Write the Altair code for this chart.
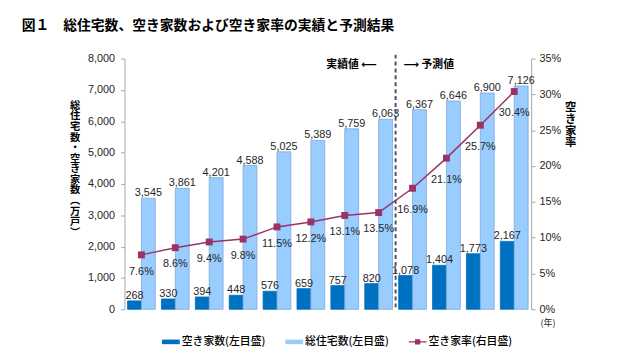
import altair as alt
import pandas as pd

years = ["1978", "1983", "1988", "1993", "1998", "2003", "2008", "2013",
         "2018", "2023", "2028", "2033"]
vacant = [268, 330, 394, 448, 576, 659, 757, 820, 1078, 1404, 1773, 2167]
total = [3545, 3861, 4201, 4588, 5025, 5389, 5759, 6063, 6367, 6646, 6900, 7126]
rate_pct = [7.6, 8.6, 9.4, 9.8, 11.5, 12.2, 13.1, 13.5, 16.9, 21.1, 25.7, 30.4]
series = ["空き家数(左目盛)", "総住宅数(左目盛)", "空き家率(右目盛)"]
colors = ["#0070C0", "#99CCFF", "#993366"]
left_ticks = [0, 1000, 2000, 3000, 4000, 5000, 6000, 7000, 8000]
right_ticks = [0, 0.05, 0.10, 0.15, 0.20, 0.25, 0.30, 0.35]
title_text = "図１　総住宅数、空き家数および空き家率の実績と予測結果"
left_title = "\n".join("総住宅数・空き家数︵万戸︶")
right_title = "\n".join("空き家率")
year_unit = "(年)"
actual_label = "実績値 ⟵"
forecast_label = "⟶ 予測値"
boundary_year = "2018"

FONT = "Liberation Sans, Arial, Noto Sans CJK JP, sans-serif"
JFONT = "Noto Sans CJK JP, DejaVu Sans, sans-serif"
TXT = "#262626"
AX = "#A6A6A6"

bars_df = pd.DataFrame({
    "year": years * 2,
    "series": [series[0]] * len(years) + [series[1]] * len(years),
    "value": vacant + total,
})
rate_df = pd.DataFrame({
    "year": years,
    "yr": [int(y) for y in years],
    "series": [series[2]] * len(years),
    "rate": [r / 100 for r in rate_pct],
})
note_df = pd.DataFrame({"year": [boundary_year]})

x_enc = alt.X("year:N", scale=alt.Scale(domain=years, paddingInner=0, paddingOuter=0),
              axis=alt.Axis(title=None,
                            labelAngle=0, labelFont=FONT, labelFontSize=11, labelColor=TXT,
                            labelPadding=3, tickBand="extent", tickSize=5, tickColor=AX,
                            domainColor=AX, grid=False))

LEG = alt.Legend(title=None, orient="none", legendX=38, legendY=278, direction="horizontal",
                 symbolSize=324, labelFont=JFONT, labelFontSize=11, labelColor="#000000",
                 labelFontWeight=500,
                 columnPadding=20, labelOffset=2, symbolStrokeWidth=0)

color_enc = alt.Color("series:N", scale=alt.Scale(domain=series, range=colors), legend=LEG)

y_left = alt.Y("value:Q", scale=alt.Scale(domain=[0, 8000], nice=False),
               axis=alt.Axis(values=left_ticks, format=",.0f", title=None,
                             labelFont=FONT, labelFontSize=11, labelColor=TXT, labelPadding=6,
                             tickSize=4, tickColor=AX, domainColor=AX, grid=False))

xoff = alt.XOffset("series:N", scale=alt.Scale(domain=series[:2], paddingOuter=0.22))

bars = alt.Chart(bars_df).mark_bar(strokeWidth=0.8).encode(
    x=x_enc, xOffset=xoff, y=y_left, color=color_enc,
    stroke=alt.Stroke("series:N", scale=alt.Scale(domain=series[:2], range=["#0070C0", "#7FA8D8"]),
                      legend=None),
)
bar_text = alt.Chart(bars_df).mark_text(dy=-5, fontSize=11, font=FONT, color=TXT).encode(
    x=x_enc, xOffset=xoff, y=y_left, text=alt.Text("value:Q", format=","),
)

y_right = alt.Y("rate:Q", scale=alt.Scale(domain=[0, 0.35], nice=False),
                axis=alt.Axis(orient="right", values=right_ticks, format=".0%", title=None,
                              labelFont=FONT, labelFontSize=11, labelColor=TXT, labelPadding=4,
                              tickSize=4, tickColor=AX, domainColor=AX, grid=False))

legend_layer = alt.Chart(rate_df).transform_filter("false").mark_point(filled=True, opacity=1).encode(
    x=x_enc, y=y_right, color=color_enc,
    shape=alt.Shape("series:N", scale=alt.Scale(
        domain=series,
        range=["M-1,-0.26H1V0.26H-1Z", "M-1,-0.26H1V0.26H-1Z",
               "M-1,-0.06H1V0.06H-1Z M-0.3,-0.3H0.3V0.3H-0.3Z"]), legend=LEG),
)
line = alt.Chart(rate_df).mark_line(color=colors[2], strokeWidth=1.5).encode(x=x_enc, y=y_right)
pts = alt.Chart(rate_df).mark_square(color=colors[2], size=49, opacity=1).encode(x=x_enc, y=y_right)
rt1 = alt.Chart(rate_df).transform_filter("datum.yr <= 2013").mark_text(
    dy=17, fontSize=11, font=FONT, color=TXT).encode(
    x=x_enc, y=y_right, text=alt.Text("rate:Q", format=".1%"))
rt2 = alt.Chart(rate_df).transform_filter("datum.yr > 2013").mark_text(
    dy=22, fontSize=11, font=FONT, color=TXT).encode(
    x=x_enc, y=y_right, text=alt.Text("rate:Q", format=".1%"))

x_band0 = alt.X("year:N", scale=alt.Scale(domain=years, paddingInner=0, paddingOuter=0),
                bandPosition=0, axis=None)
rule = alt.Chart(note_df).mark_rule(color="#44546A", strokeWidth=2, strokeDash=[4, 3]).encode(
    x=x_band0, y=alt.value(-4), y2=alt.value(254))
note1 = alt.Chart(note_df).mark_text(align="right", baseline="middle", dx=-19, fontSize=11,
                                     font=JFONT, fontWeight="bold", color="#000000").encode(
    x=x_band0, y=alt.value(7), text=alt.value(actual_label))
note2 = alt.Chart(note_df).mark_text(align="left", baseline="middle", dx=8, fontSize=11,
                                     font=JFONT, fontWeight="bold", color="#000000").encode(
    x=x_band0, y=alt.value(7), text=alt.value(forecast_label))

ltitle = alt.Chart(note_df).mark_text(lineBreak="\n", lineHeight=10.7, align="center",
                                      baseline="middle", fontSize=10.4, font=JFONT,
                                      fontWeight="bold", color="#000000").encode(
    x=alt.value(-50), y=alt.value(48), text=alt.value(left_title))
rtitle = alt.Chart(note_df).mark_text(lineBreak="\n", lineHeight=12, align="center",
                                      baseline="middle", fontSize=11.5, font=JFONT,
                                      fontWeight="bold", color="#000000").encode(
    x=alt.value(452), y=alt.value(50), text=alt.value(right_title))
unit = alt.Chart(note_df).mark_text(align="center", baseline="middle", fontSize=9, font=JFONT,
                                    color=TXT).encode(
    x=alt.value(429), y=alt.value(268), text=alt.value(year_unit))

left_group = alt.layer(bars, bar_text)
right_group = alt.layer(legend_layer, line, pts, rt1, rt2)

chart = alt.layer(left_group, right_group, rule, note1, note2, ltitle, rtitle, unit).resolve_scale(
    y="independent"
).properties(
    width=412, height=254,
    title=alt.TitleParams(title_text, anchor="start", frame="group", dx=-104, offset=20,
                          fontSize=14, font=JFONT, fontWeight="bold", color="#000000"),
    autosize=alt.AutoSizeParams(type="none"),
    padding={"left": 118, "top": 49, "right": 90, "bottom": 40},
).configure_view(stroke=None)

chart.save("out.html", embed_options={"renderer": "svg", "actions": False})
